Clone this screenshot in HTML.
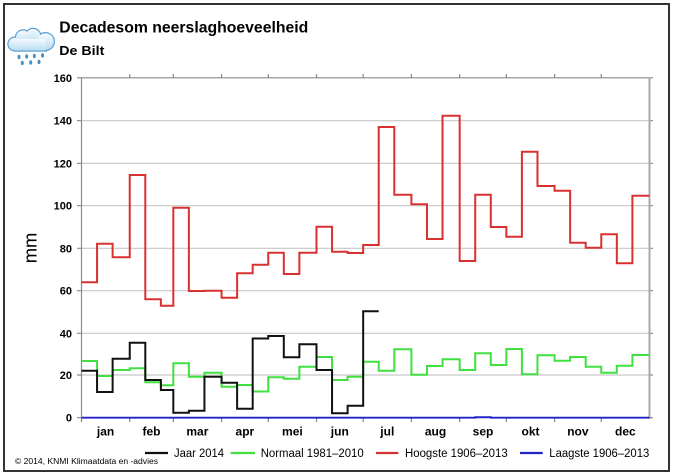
<!DOCTYPE html>
<html><head><meta charset="utf-8"><style>
html,body{margin:0;padding:0;background:#fff;}
svg{display:block;}
text{font-family:"Liberation Sans",Arial,sans-serif;}
</style></head><body>
<svg width="676" height="475" viewBox="0 0 676 475" xmlns="http://www.w3.org/2000/svg">
<defs>
<linearGradient id="cg" x1="0" y1="0" x2="0" y2="1">
<stop offset="0" stop-color="#f6fbff"/><stop offset="1" stop-color="#b9dcf1"/>
</linearGradient>
</defs>
<rect x="0" y="0" width="676" height="475" fill="#fff"/>
<rect x="4" y="4" width="665" height="467" fill="#fff" stroke="#333" stroke-width="2"/>

<!-- icon -->
<g fill="none" stroke="#5a9fd0" stroke-width="2.4">
<circle cx="14.8" cy="44" r="6.3"/><circle cx="23" cy="37.5" r="7"/><circle cx="33" cy="36.5" r="7.5"/><circle cx="45.5" cy="41.5" r="8.3"/>
<rect x="14.8" y="39" width="31" height="11.5"/>
</g>
<g fill="url(#cg)">
<circle cx="14.8" cy="44" r="6.3"/><circle cx="23" cy="37.5" r="7"/><circle cx="33" cy="36.5" r="7.5"/><circle cx="45.5" cy="41.5" r="8.3"/>
<rect x="14.8" y="39" width="31" height="11.5"/>
</g>
<g fill="#4a8fc2">
<ellipse cx="19" cy="57" rx="1.5" ry="2.2"/><ellipse cx="26.7" cy="56.5" rx="1.5" ry="2.2"/><ellipse cx="34.3" cy="56" rx="1.5" ry="2.2"/><ellipse cx="42.5" cy="55.5" rx="1.5" ry="2.2"/>
<ellipse cx="22.3" cy="63" rx="1.5" ry="2.2"/><ellipse cx="30.7" cy="62.5" rx="1.5" ry="2.2"/><ellipse cx="39" cy="62" rx="1.5" ry="2.2"/>
</g>

<!-- titles -->
<text x="59.3" y="32.3" font-size="16" font-weight="bold" fill="#000" textLength="249" lengthAdjust="spacingAndGlyphs">Decadesom neerslaghoeveelheid</text>
<text x="59.3" y="55" font-size="13" font-weight="bold" fill="#000" textLength="45" lengthAdjust="spacingAndGlyphs">De Bilt</text>

<!-- gridlines -->
<g stroke="#c8c8c8" stroke-width="1.2">
<line x1="81.5" x2="649.5" y1="375" y2="375"/>
<line x1="81.5" x2="649.5" y1="333.3" y2="333.3"/>
<line x1="81.5" x2="649.5" y1="290.7" y2="290.7"/>
<line x1="81.5" x2="649.5" y1="248.3" y2="248.3"/>
<line x1="81.5" x2="649.5" y1="205.7" y2="205.7"/>
<line x1="81.5" x2="649.5" y1="163.3" y2="163.3"/>
<line x1="81.5" x2="649.5" y1="120.7" y2="120.7"/>
</g>

<!-- axes -->
<g stroke="#8a8a8a" stroke-width="1.2" fill="none">
<line x1="81.5" y1="77.8" x2="653" y2="77.8"/>
<line x1="81.5" y1="77.8" x2="81.5" y2="422"/>
<line x1="81.5" y1="417.7" x2="653" y2="417.7"/>
<!-- left ticks -->
<path d="M77,77.8H81.5M77,120.7H81.5M77,163.3H81.5M77,205.7H81.5M77,248.3H81.5M77,290.7H81.5M77,333.3H81.5M77,375H81.5M77,417.7H81.5"/>
<!-- right ticks -->
<path d="M649.5,120.7H653M649.5,163.3H653M649.5,205.7H653M649.5,248.3H653M649.5,290.7H653M649.5,333.3H653M649.5,375H653"/>
<!-- top ticks -->
<path d="M129.74,74V77.8M173.32,74V77.8M221.56,74V77.8M268.24,74V77.8M316.49,74V77.8M363.17,74V77.8M411.41,74V77.8M459.66,74V77.8M506.34,74V77.8M554.58,74V77.8M601.27,74V77.8"/>
<!-- bottom ticks -->
<path d="M129.74,417.7V422M173.32,417.7V422M221.56,417.7V422M268.24,417.7V422M316.49,417.7V422M363.17,417.7V422M411.41,417.7V422M459.66,417.7V422M506.34,417.7V422M554.58,417.7V422M601.27,417.7V422"/>
</g>
<line x1="649.5" y1="77.8" x2="649.5" y2="419" stroke="#aaa" stroke-width="2"/>

<!-- y labels -->
<g font-size="11" font-weight="bold" fill="#000" text-anchor="end">
<text x="72" y="81.8">160</text>
<text x="72" y="124.7">140</text>
<text x="72" y="167.3">120</text>
<text x="72" y="209.7">100</text>
<text x="72" y="252.3">80</text>
<text x="72" y="294.7">60</text>
<text x="72" y="337.3">40</text>
<text x="72" y="379">20</text>
<text x="72" y="421.7">0</text>
</g>
<text transform="translate(36.5,263.3) rotate(-90)" font-size="18" fill="#000" textLength="30.6" lengthAdjust="spacingAndGlyphs">mm</text>

<!-- month labels -->
<g font-size="12" font-weight="bold" fill="#000" text-anchor="middle">
<text x="105.6" y="435.5">jan</text>
<text x="151.5" y="435.5">feb</text>
<text x="197.4" y="435.5">mar</text>
<text x="244.9" y="435.5">apr</text>
<text x="292.4" y="435.5">mei</text>
<text x="339.8" y="435.5">jun</text>
<text x="387.3" y="435.5">jul</text>
<text x="435.5" y="435.5">aug</text>
<text x="483" y="435.5">sep</text>
<text x="530.5" y="435.5">okt</text>
<text x="577.9" y="435.5">nov</text>
<text x="625.4" y="435.5">dec</text>
</g>

<!-- series -->
<g fill="none" stroke-width="2" stroke-linejoin="miter">
<path stroke="#3fe03f" d="M81.5,361 H97.06 V376 H112.62 V370 H129.74 V368.3 H145.3 V382.3 H160.87 V385.3 H173.32 V363.3 H188.88 V376.7 H204.44 V372.7 H221.56 V386.7 H237.12 V385 H252.68 V391.5 H268.24 V377.3 H283.81 V378.7 H299.37 V366.7 H316.49 V357 H332.05 V380 H347.61 V376.7 H363.17 V361.7 H378.73 V370.7 H394.3 V349.3 H411.41 V374.7 H426.98 V366 H442.54 V359.3 H459.66 V370 H475.22 V353.3 H490.78 V365 H506.34 V349 H521.9 V374.3 H537.47 V355.3 H554.58 V360.7 H570.14 V357 H585.71 V366.7 H601.27 V372.7 H616.83 V365.7 H632.39 V355 H649.5"/>
<path stroke="#d93030" d="M81.5,282.3 H97.06 V243.7 H112.62 V257.3 H129.74 V175 H145.3 V299.3 H160.87 V305.7 H173.32 V207.7 H188.88 V291 H204.44 V290.7 H221.56 V297.7 H237.12 V273.3 H252.68 V264.7 H268.24 V252.7 H283.81 V274 H299.37 V252.7 H316.49 V226.7 H332.05 V251.7 H347.61 V253 H363.17 V245 H378.73 V127 H394.3 V194.7 H411.41 V204.3 H426.98 V239 H442.54 V115.7 H459.66 V261 H475.22 V194.7 H490.78 V227 H506.34 V236.7 H521.9 V151.7 H537.47 V186 H554.58 V190.7 H570.14 V242.7 H585.71 V247.7 H601.27 V234.3 H616.83 V263.3 H632.39 V195.7 H649.5"/>
<path stroke="#111" d="M81.5,370.7 H97.06 V392 H112.62 V358.7 H129.74 V342.7 H145.3 V380 H160.87 V390 H173.32 V412.7 H188.88 V410.7 H204.44 V376.7 H221.56 V382.7 H237.12 V408.7 H252.68 V338.5 H268.24 V336 H283.81 V357.3 H299.37 V344.3 H316.49 V370 H332.05 V413.3 H347.61 V405.7 H363.17 V311.3 H378.73"/>
<path stroke="#2222c8" stroke-width="1.8" d="M81.5,417.7 H475.22 V417.2 H490.78 V417.7 H649.5"/>
</g>

<!-- legend -->
<g stroke-width="2.2">
<line x1="145" y1="453" x2="168" y2="453" stroke="#111"/>
<line x1="230.7" y1="453" x2="255" y2="453" stroke="#3fe03f"/>
<line x1="376" y1="453" x2="398.3" y2="453" stroke="#d93030"/>
<line x1="520" y1="453" x2="542.7" y2="453" stroke="#2222c8"/>
</g>
<g font-size="11.5" fill="#000">
<text x="174" y="457" textLength="50" lengthAdjust="spacingAndGlyphs">Jaar 2014</text>
<text x="260.7" y="457" textLength="103" lengthAdjust="spacingAndGlyphs">Normaal 1981–2010</text>
<text x="405" y="457" textLength="102.7" lengthAdjust="spacingAndGlyphs">Hoogste 1906–2013</text>
<text x="549.3" y="457" textLength="100" lengthAdjust="spacingAndGlyphs">Laagste 1906–2013</text>
</g>
<text x="15" y="464" font-size="8" fill="#000" textLength="143" lengthAdjust="spacingAndGlyphs">© 2014, KNMI Klimaatdata en -advies</text>
</svg>
</body></html>
